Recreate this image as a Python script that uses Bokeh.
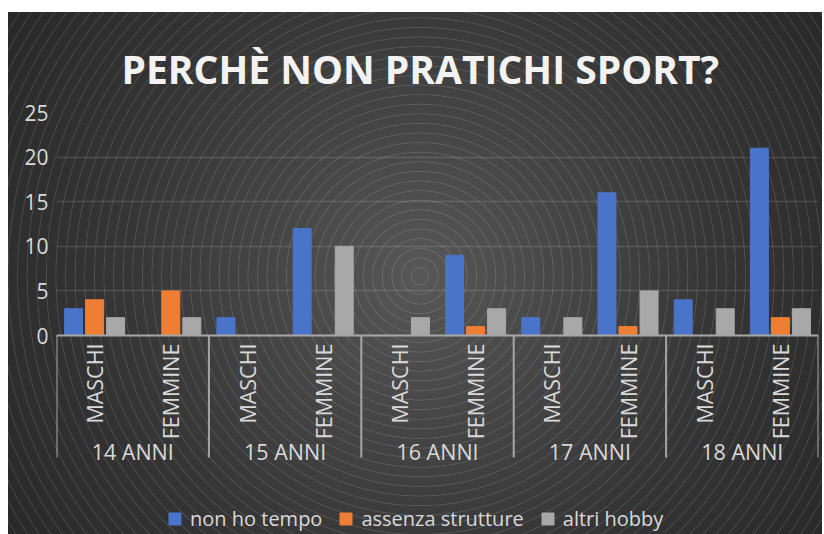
import math
from bokeh.plotting import figure
from bokeh.core.properties import value
from bokeh.models import (FactorRange, Range1d, FixedTicker, Span,
                          Legend, LegendItem, ColumnDataSource)
from bokeh.transform import dodge
from bokeh.embed import file_html
from bokeh.resources import INLINE

# ---------------- data ----------------
ages = ["14 ANNI", "15 ANNI", "16 ANNI", "17 ANNI", "18 ANNI"]
sexes = ["MASCHI", "FEMMINE"]
series_names = ["non ho tempo", "assenza strutture", "altri hobby"]
non_ho_tempo = [3, 0, 2, 12, 0, 9, 2, 16, 4, 21]
assenza_strutture = [4, 5, 0, 0, 0, 1, 0, 1, 0, 2]
altri_hobby = [2, 2, 0, 10, 2, 3, 2, 5, 3, 3]
y_ticks = [0, 5, 10, 15, 20, 25]
title_text = "PERCHÈ NON PRATICHI SPORT?"

# ---------------- styling / layout ----------------
colors = ["#4a74c9", "#ef7e35", "#a8a8a8"]
text_color = "#d9d9d9"
line_color = "#a6a6a6"
FONT = "Open Sans"
Y_MAX = y_ticks[-1]
PLOT_PX = 223                      # pixel height of the 0..25 value area
PX_UNIT = PLOT_PX / Y_MAX
BELOW_PX = 199                     # pixels below the zero line (category axis + legend)


def px_below(px):
    """data y for a point `px` pixels below the zero line"""
    return -px / PX_UNIT


factors = [(a, s) for a in ages for s in sexes]
source = ColumnDataSource(dict(x=factors, t=non_ho_tempo, s=assenza_strutture, h=altri_hobby,
                               sub=[f[1] for f in factors]))
grp_src = ColumnDataSource(dict(x=[(a, sexes[0]) for a in ages], age=ages))
end_src = ColumnDataSource(dict(x=[factors[-1]]))

p = figure(width=814, height=522,
           x_range=FactorRange(*factors, group_padding=0, factor_padding=0, range_padding=0),
           y_range=Range1d(px_below(BELOW_PX), Y_MAX),
           x_axis_location=None,
           output_backend="svg", toolbar_location=None,
           min_border_left=48, min_border_right=4, min_border_top=100, min_border_bottom=0)
p.margin = (12, 2, 0, 8)
p.border_fill_color = None
p.background_fill_color = None
p.outline_line_color = None
p.styles = {
    "background-color": "#333333",
    "background-image": (
        "repeating-radial-gradient(circle at 50.6% 50.6%, rgba(255,255,255,0) 0px, "
        "rgba(255,255,255,0) 8px, rgba(255,255,255,0.15) 8.6px, rgba(255,255,255,0) 9.6px), "
        "radial-gradient(circle at 50.6% 50.6%, #575757 0%, #464646 30%, #363636 60%, #282828 100%)"
    ),
}

# title
p.title.text = title_text
p.title.align = "left"
p.title.offset = 65
p.title.standoff = 35
p.title.text_font = FONT
p.title.text_font_size = "39px"
p.title.text_font_style = "bold"
p.title.text_color = "#f2f2f2"

# bars
offsets = [-0.276, 0.0, 0.276]
cols = ["t", "s", "h"]
renderers = []
for off, c, col in zip(offsets, colors, cols):
    r = p.vbar(x=dodge("x", off, range=p.x_range), top=col, width=0.236, source=source,
               fill_color=c, line_color=c, line_width=1)
    renderers.append(r)

# y axis
p.yaxis.ticker = FixedTicker(ticks=y_ticks)
p.yaxis.axis_line_color = None
p.yaxis.major_tick_line_color = None
p.yaxis.minor_tick_line_color = None
p.yaxis.major_tick_out = 0
p.yaxis.major_tick_in = 0
p.yaxis.major_label_standoff = 8
p.yaxis.major_label_text_font = FONT
p.yaxis.major_label_text_font_size = "21px"
p.yaxis.major_label_text_color = text_color

p.ygrid.ticker = FixedTicker(ticks=y_ticks)
p.ygrid.grid_line_color = "white"
p.ygrid.grid_line_alpha = 0.13
p.ygrid.grid_line_width = 1.5
p.xgrid.grid_line_color = None

# category axis: zero line, group separators, sub labels, group labels
p.add_layout(Span(location=0, dimension="width", line_color=line_color, line_width=2))
p.segment(x0=dodge("x", -0.5, range=p.x_range), y0=0,
          x1=dodge("x", -0.5, range=p.x_range), y1=px_below(122),
          source=grp_src, line_color=line_color, line_width=2)
p.segment(x0=dodge("x", 0.5, range=p.x_range), y0=0,
          x1=dodge("x", 0.5, range=p.x_range), y1=px_below(122),
          source=end_src, line_color=line_color, line_width=2)
p.text(x="x", y=px_below(8), text="sub", source=source, angle=math.pi / 2,
       text_align="right", text_baseline="middle",
       text_font=value(FONT), text_font_size="21.5px", text_color=text_color)
p.text(x=dodge("x", 0.5, range=p.x_range), y=px_below(116), text="age", source=grp_src,
       text_align="center", text_baseline="middle",
       text_font=value(FONT), text_font_size="21.5px", text_color=text_color)

# legend
legend = Legend(items=[LegendItem(label=n, renderers=[r]) for n, r in zip(series_names, renderers)],
                location=(111, 2), orientation="horizontal",
                background_fill_alpha=0, border_line_color=None,
                label_text_color=text_color, label_text_font=FONT, label_text_font_size="20px",
                glyph_width=15, glyph_height=15, label_standoff=8, spacing=16,
                padding=0, margin=0)
p.add_layout(legend, "center")

open("out.html", "w").write(file_html(p, INLINE))
